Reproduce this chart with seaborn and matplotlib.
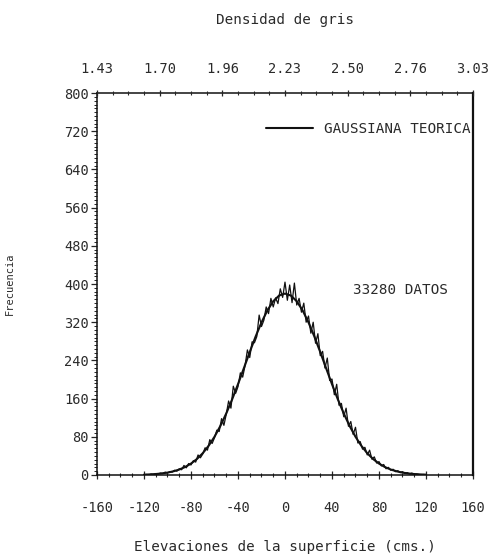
import numpy as np
import pandas as pd
import seaborn as sns
import matplotlib.pyplot as plt
from matplotlib.ticker import MultipleLocator, AutoMinorLocator
plt.switch_backend('agg')

# ---------------- datos ----------------
# histograma (paso de 2 cms), de -120 a 120
elev_hist = list(range(-120, 122, 2))
frec_hist = [0, 1, 0, 2, 1, 3, 2, 4, 3, 6,
             4, 7, 6, 10, 8, 13, 11, 20, 15, 24,
             21, 30, 27, 42, 36, 44, 57, 52, 74, 66,
             78, 94, 91, 118, 104, 127, 155, 140, 186, 171,
             185, 214, 205, 229, 262, 246, 279, 277, 290, 335,
             311, 324, 352, 338, 370, 352, 371, 359, 390, 372,
             404,
             366, 398, 361, 402, 356, 370, 341, 360, 320, 333,
             297, 320, 276, 296, 250, 259, 224, 245, 198, 201,
             168, 190, 146, 150, 122, 140, 102, 112, 85, 100,
             67, 70, 54, 58, 42, 52, 33, 38, 25, 28,
             19, 22, 13, 16, 10, 12, 7, 9, 5, 7,
             3, 5, 2, 4, 1, 2, 1, 0, 1, 0]

# gaussiana teorica (paso de 5 cms)
elev_gauss = list(range(-120, 125, 5))
frec_gauss = [0.7, 1.2, 2.0, 3.2, 5.0, 7.7, 11.4, 16.7, 23.9, 33.4,
              45.6, 61.1, 80.1, 102.7, 128.9, 158.3, 190.2, 223.7, 257.5, 290.0,
              319.6, 344.8, 363.9, 375.9, 380.0, 375.9, 363.9, 344.8, 319.6, 290.0,
              257.5, 223.7, 190.2, 158.3, 128.9, 102.7, 80.1, 61.1, 45.6, 33.4,
              23.9, 16.7, 11.4, 7.7, 5.0, 3.2, 2.0, 1.2, 0.7]

x_ticks = [-160, -120, -80, -40, 0, 40, 80, 120, 160]
y_ticks = [0, 80, 160, 240, 320, 400, 480, 560, 640, 720, 800]
dens_labels = ['1.43', '1.70', '1.96', '2.23', '2.50', '2.76', '3.03']

df_hist = pd.DataFrame({'elev': elev_hist, 'frec': frec_hist})
df_gauss = pd.DataFrame({'elev': elev_gauss, 'frec': frec_gauss})

sns.set_style('ticks')
plt.rcParams['font.family'] = ['DejaVu Sans Mono', 'DejaVu Sans']
txt_col = '#2a2a2a'
fs_tick = 9.8
fs_lab = 10.3

fig = plt.figure(figsize=(5.01, 5.60), dpi=100)
ax = fig.add_axes([0.1936, 0.1518, 0.7505, 0.682])

sns.lineplot(data=df_hist, x='elev', y='frec', ax=ax, color='#111111',
             linewidth=0.9, estimator=None)
sns.lineplot(data=df_gauss, x='elev', y='frec', ax=ax, color='#111111',
             linewidth=1.5, estimator=None, label='GAUSSIANA TEORICA')

ax.set_xlim(-160, 160)
ax.set_ylim(0, 800)
ax.set_xticks(x_ticks)
ax.set_xticklabels([str(v) for v in x_ticks])
ax.set_yticks(y_ticks)
ax.set_yticklabels([str(v) for v in y_ticks])
ax.xaxis.set_minor_locator(MultipleLocator(10))
ax.yaxis.set_minor_locator(MultipleLocator(8))

for s in ax.spines.values():
    s.set_color('#111111')
    s.set_linewidth(1.1)
ax.spines['right'].set_linewidth(1.6)

ax.tick_params(axis='x', which='major', direction='inout', length=6, width=0.9,
               pad=16, labelsize=fs_tick, labelcolor=txt_col)
ax.tick_params(axis='x', which='minor', direction='inout', length=3, width=0.8)
ax.tick_params(axis='y', which='major', direction='out', length=4, width=0.9,
               pad=2, labelsize=fs_tick, labelcolor=txt_col)
ax.tick_params(axis='y', which='minor', direction='out', length=2.5, width=0.7)

ax.set_xlabel('Elevaciones de la superficie (cms.)', fontsize=fs_lab,
              color=txt_col, labelpad=18)
ax.set_ylabel('Frecuencia', fontsize=7.5, color=txt_col, labelpad=35)

# eje superior: densidad de gris
ax2 = ax.twiny()
ax2.set_xlim(-160, 160)
ax2.set_xticks(np.linspace(-160, 160, len(dens_labels)))
ax2.set_xticklabels(dens_labels)
ax2.xaxis.set_minor_locator(AutoMinorLocator(4))
ax2.tick_params(axis='x', which='major', direction='inout', length=5, width=0.9,
                pad=10, labelsize=fs_tick, labelcolor=txt_col)
ax2.tick_params(axis='x', which='minor', direction='inout', length=3, width=0.8)
ax2.set_xlabel('Densidad de gris', fontsize=fs_lab, color=txt_col, labelpad=27)
for s in ax2.spines.values():
    s.set_visible(False)

ax.legend(loc='center right', bbox_to_anchor=(0.993, 0.906), frameon=False,
          fontsize=fs_lab, handlelength=3.3, handletextpad=0.75,
          borderaxespad=0, borderpad=0, labelcolor=txt_col)
ax.text(0.681, 0.484, '33280 DATOS', transform=ax.transAxes, fontsize=fs_lab,
        color=txt_col, va='center', ha='left')

plt.savefig('out.png', dpi=100)
plt.close()
